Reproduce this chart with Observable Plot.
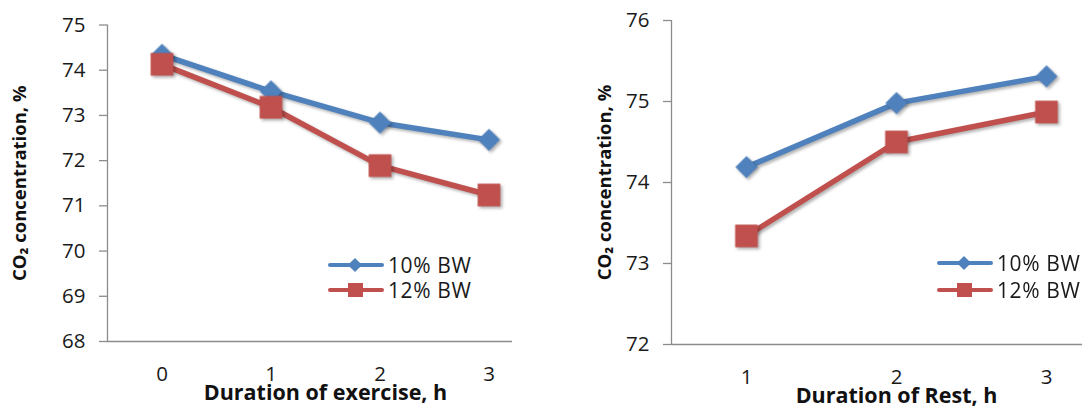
<!DOCTYPE html>
<html>
<head>
<meta charset="utf-8">
<script src="https://cdn.jsdelivr.net/npm/d3@7"></script>
<script src="https://cdn.jsdelivr.net/npm/@observablehq/plot@0.6"></script>
<style>
  body { margin: 0; background: #fff; }
  #chart { position: relative; width: 1082px; height: 406px; overflow: hidden; background: #fff; font-family: "Open Sans", sans-serif; }
  .panel { position: absolute; top: 0; height: 406px; overflow: hidden; }
  .panel svg { max-width: none !important; }
  .legend-row { position: absolute; display: flex; align-items: center; height: 26px; transform: translateY(-50%); font-size: 21px; letter-spacing: 0.6px; color: #1a1a1a; white-space: nowrap; }
  .legend-row svg { display: block; margin-right: 4px; }
</style>
</head>
<body>
<div id="chart"></div>
<script>
// CO2 concentration during exercise and during rest, for two body-weight loads
const seriesNames = ["10% BW", "12% BW"];
const seriesColors = ["#4F81BD", "#C0504D"];

const exerciseHours = [0, 1, 2, 3];
const exerciseBW10 = [74.34, 73.53, 72.84, 72.46];
const exerciseBW12 = [74.13, 73.18, 71.89, 71.24];
const exerciseTicks = [68, 69, 70, 71, 72, 73, 74, 75];

const restHours = [1, 2, 3];
const restBW10 = [74.19, 74.98, 75.31];
const restBW12 = [73.34, 74.50, 74.87];
const restTicks = [72, 73, 74, 75, 76];

const yTitle = "CO\u2082 concentration, %";

function rows(hours, values, series) {
  return hours.map((h, i) => ({hour: h, value: values[i], series}));
}

function panel({hours, bw10, bw12, xDomain, yTicks, xTitle, width, marginLeft, marginRight, marginTop, marginBottom, yTitleDx}) {
  const yDomain = [yTicks[0], yTicks[yTicks.length - 1]];
  const s10 = rows(hours, bw10, seriesNames[0]);
  const s12 = rows(hours, bw12, seriesNames[1]);
  const svg = Plot.plot({
    width, height: 406, marginLeft, marginRight, marginTop, marginBottom,
    style: {fontFamily: "'Open Sans', sans-serif", background: "white", maxWidth: "none"},
    x: {domain: xDomain, axis: null},
    y: {domain: yDomain, axis: null},
    marks: [
      Plot.ruleY([yDomain[0]], {stroke: "#8c8c8c", strokeWidth: 1.3}),
      Plot.ruleX([xDomain[0]], {stroke: "#8c8c8c", strokeWidth: 1.3}),
      Plot.axisY({ticks: yTicks, label: null, tickSize: 8, tickPadding: 14, tickFormat: d => String(d),
                  fontSize: 20.5, stroke: "#8c8c8c", strokeWidth: 1.3, fill: "#1a1a1a"}),
      Plot.axisX({ticks: hours, label: null, tickSize: 0, tickPadding: 25, tickFormat: d => String(d),
                  fontSize: 20.5, fill: "#1a1a1a"}),
      Plot.line(s10, {x: "hour", y: "value", stroke: seriesColors[0], strokeWidth: 5.5}),
      Plot.dot(s10, {x: "hour", y: "value", symbol: "diamond2", r: 10, fill: seriesColors[0]}),
      Plot.line(s12, {x: "hour", y: "value", stroke: seriesColors[1], strokeWidth: 5.5}),
      Plot.dot(s12, {x: "hour", y: "value", symbol: "square", r: 12.8, fill: seriesColors[1]}),
      Plot.text([xTitle], {text: d => d, frameAnchor: "bottom", dy: 58, fontWeight: "bold", fontSize: 21.5, fill: "#111"}),
      Plot.text([yTitle], {text: d => d, frameAnchor: "left", textAnchor: "middle", rotate: -90, dx: yTitleDx,
                           fontWeight: "bold", fontSize: 18.5, fill: "#111"})
    ]
  });
  svg.querySelectorAll('g[aria-label="dot"], g[aria-label="line"]').forEach(g => {
    g.style.filter = "drop-shadow(2px 2px 1.5px rgba(0,0,0,0.3))";
  });
  return svg;
}

function legend(container, left, tops) {
  seriesNames.forEach((name, i) => {
    const row = document.createElement("div");
    row.className = "legend-row";
    row.style.left = left + "px";
    row.style.top = tops[i] + "px";
    const marker = i === 0
      ? `<rect x="22" y="4" width="10" height="10" transform="rotate(45 27 9)" fill="${seriesColors[0]}"/>`
      : `<rect x="20" y="2" width="15" height="14" fill="${seriesColors[1]}"/>`;
    row.innerHTML = `<svg width="56" height="18"><line x1="2" x2="54" y1="9" y2="9" stroke="${seriesColors[i]}" stroke-width="4" stroke-linecap="round"/>${marker}</svg><span>${name}</span>`;
    container.appendChild(row);
  });
}

const chart = document.getElementById("chart");

const left = document.createElement("div");
left.className = "panel";
left.style.left = "0px";
left.style.width = "512px";
left.appendChild(panel({
  hours: exerciseHours, bw10: exerciseBW10, bw12: exerciseBW12,
  xDomain: [-0.5, 3.5], yTicks: exerciseTicks, xTitle: "Duration of exercise, h",
  width: 560, marginLeft: 107, marginRight: 17, marginTop: 24.5, marginBottom: 65, yTitleDx: -87
}));
chart.appendChild(left);

const right = document.createElement("div");
right.className = "panel";
right.style.left = "540px";
right.style.width = "542px";
right.appendChild(panel({
  hours: restHours, bw10: restBW10, bw12: restBW12,
  xDomain: [0.5, 3.5], yTicks: restTicks, xTitle: "Duration of Rest, h",
  width: 600, marginLeft: 131, marginRight: 19, marginTop: 20, marginBottom: 62, yTitleDx: -66
}));
chart.appendChild(right);

legend(chart, 328, [265, 290]);
legend(chart, 937, [263, 290]);
</script>
</body>
</html>
